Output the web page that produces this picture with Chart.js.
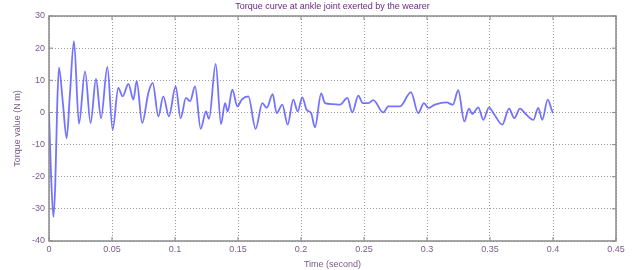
<!DOCTYPE html>
<html>
<head>
<meta charset="utf-8">
<script src="https://cdn.jsdelivr.net/npm/chart.js@4/dist/chart.umd.min.js"></script>
<style>
  html, body { margin: 0; padding: 0; background: #fff; }
  #wrap { width: 634px; height: 270px; position: relative; }
</style>
</head>
<body>
<div id="wrap"><canvas id="torqueChart" width="634" height="270"></canvas></div>
<script>
// ===================== torque curve data =====================
var timeSec = [
    0, 0.0015, 0.0035, 0.005, 0.0065, 0.0079, 0.011, 0.014, 0.0165, 0.0198,
    0.0238, 0.0286, 0.033, 0.0373, 0.0413, 0.0463, 0.0505, 0.055, 0.0585, 0.063,
    0.067, 0.0696, 0.074, 0.0788, 0.0823, 0.0868, 0.0907, 0.0952, 0.1005, 0.1045,
    0.1087, 0.112, 0.1159, 0.1204, 0.1246, 0.127, 0.1323, 0.1365, 0.1397, 0.1418,
    0.1455, 0.1495, 0.153, 0.1582, 0.164, 0.1693, 0.1728, 0.1775, 0.1807, 0.1852,
    0.1894, 0.1939, 0.1974, 0.201, 0.2045, 0.208, 0.2111, 0.216, 0.219, 0.225,
    0.231, 0.2368, 0.2407, 0.2455, 0.249, 0.2535, 0.2574, 0.2653, 0.2693, 0.2786,
    0.2873, 0.293, 0.2976, 0.301, 0.3063, 0.3156, 0.3205, 0.3248, 0.3296, 0.3333,
    0.336, 0.3407, 0.3447, 0.3492, 0.3535, 0.3598, 0.3651, 0.3693, 0.3738, 0.3783,
    0.3844, 0.3883, 0.3915, 0.3958, 0.399, 0.4
];
var torqueNm = [
    0, -18, -32.5, -22, 2, 13.9, 3, -8, 5, 22.2,
    -3.5, 12.8, -3.3, 10.4, -1.8, 14.2, -5.4, 7.6, 5, 8.9,
    4, 9.7, -3.3, 6, 9.2, -1.2, 5, -1.2, 8.1, -1.8,
    4.5, 3.5, 8.1, -5.1, 0.3, -2, 15.1, -3.6, 2.9, 0.3,
    7.1, 1.9, 4, 5, -5.1, 2.9, 1.4, 5.7, -0.2, 2.4,
    -3.8, 4, 0.3, 4.7, 0.8, -0.2, -4.6, 5.9, 2.9, 2.6,
    2.4, 4.5, 0, 5.2, 2.9, 2.9, 3.8, 0, 1.9, 1.9,
    6.3, -0.2, 2.9, 1.4, 2.4, 3.1, 2.4, 6.9, -2.8, 1.2,
    -0.5, 1.6, -2.3, 1.6, -0.7, -3.8, 1.2, -1.8, 1.2, -0.5,
    -2.3, 1.4, -2.3, 4, 0.8, -0.2
];
var xTicks = [0, 0.05, 0.1, 0.15, 0.2, 0.25, 0.3, 0.35, 0.4, 0.45];
var yTicks = [-40, -30, -20, -10, 0, 10, 20, 30];
var titleText = "Torque curve at ankle joint exerted by the wearer";

var points = timeSec.map(function (t, i) {
    return { x: t, y: torqueNm[i] };
});

var labelColor = "#7a5a8a";
var gridColor = "#9a9a9a";
var fontFamily = "'Liberation Sans', Arial, sans-serif";

// frame box + inner tick marks + title, matlab style
var framePlugin = {
    id: "frame",
    afterDraw: function (chart) {
        var ctx = chart.ctx;
        var a = chart.chartArea;
        var xs = chart.scales.x, ys = chart.scales.y;
        ctx.save();
        ctx.strokeStyle = "#8a8a8a";
        ctx.lineWidth = 1.5;
        ctx.strokeRect(a.left, a.top, a.right - a.left, a.bottom - a.top);
        ctx.lineWidth = 1;
        ctx.beginPath();
        xTicks.forEach(function (v) {
            var px = xs.getPixelForValue(v);
            ctx.moveTo(px, a.bottom); ctx.lineTo(px, a.bottom - 4);
            ctx.moveTo(px, a.top); ctx.lineTo(px, a.top + 4);
        });
        yTicks.forEach(function (v) {
            var py = ys.getPixelForValue(v);
            ctx.moveTo(a.left, py); ctx.lineTo(a.left + 4, py);
            ctx.moveTo(a.right, py); ctx.lineTo(a.right - 4, py);
        });
        ctx.stroke();
        ctx.fillStyle = "#6a2a7a";
        ctx.font = "9px " + fontFamily;
        ctx.textAlign = "center";
        ctx.textBaseline = "middle";
        ctx.fillText(titleText, (a.left + a.right) / 2, 7);
        ctx.restore();
    }
};

new Chart(document.getElementById("torqueChart"), {
    type: "line",
    data: {
        datasets: [{
            data: points,
            borderColor: "rgba(80, 80, 255, 0.8)",
            borderWidth: 1.8,
            pointRadius: 0,
            fill: false,
            cubicInterpolationMode: "monotone"
        }]
    },
    options: {
        responsive: false,
        animation: false,
        layout: { padding: { top: 16, right: 18, left: 0, bottom: 0 } },
        plugins: {
            legend: { display: false },
            tooltip: { enabled: false },
            title: { display: false }
        },
        scales: {
            x: {
                type: "linear",
                min: 0,
                max: 0.45,
                afterBuildTicks: function (axis) {
                    axis.ticks = xTicks.map(function (v) { return { value: v }; });
                },
                afterFit: function (axis) { axis.height = 29; },
                ticks: {
                    color: labelColor,
                    font: { family: fontFamily, size: 9 },
                    padding: 3,
                    maxRotation: 0,
                    autoSkip: false,
                    callback: function (v) { return String(Math.round(v * 100) / 100); }
                },
                grid: {
                    color: gridColor,
                    lineWidth: 1,
                    drawTicks: false,
                    tickLength: 0
                },
                border: { display: false, dash: [1, 2] },
                title: {
                    display: true,
                    text: "Time (second)",
                    color: labelColor,
                    font: { family: fontFamily, size: 9 },
                    padding: { top: 1, bottom: 0 }
                }
            },
            y: {
                min: -40,
                max: 30,
                afterBuildTicks: function (axis) {
                    axis.ticks = yTicks.map(function (v) { return { value: v }; });
                },
                afterFit: function (axis) { axis.width = 49; },
                ticks: {
                    color: labelColor,
                    font: { family: fontFamily, size: 9 },
                    padding: 4
                },
                grid: {
                    color: gridColor,
                    lineWidth: 1,
                    drawTicks: false,
                    tickLength: 0
                },
                border: { display: false, dash: [1, 2] },
                title: {
                    display: true,
                    text: "Torque value (N m)",
                    color: labelColor,
                    font: { family: fontFamily, size: 9 },
                    padding: { top: 12, bottom: 2 }
                }
            }
        }
    },
    plugins: [framePlugin]
});
</script>
</body>
</html>
